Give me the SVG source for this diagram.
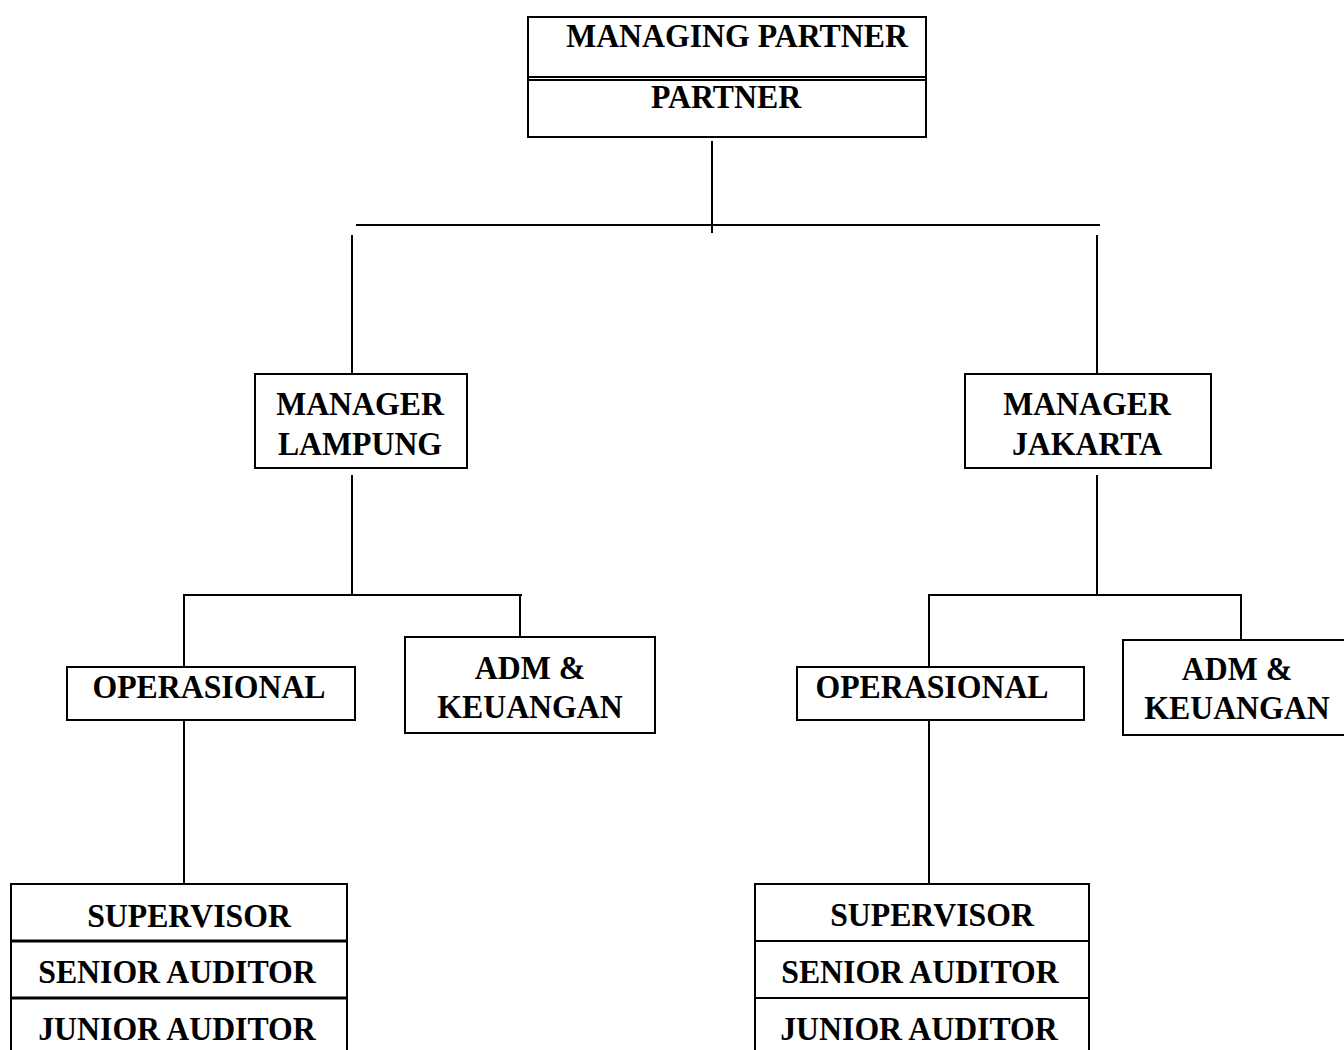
<svg xmlns="http://www.w3.org/2000/svg" width="1344" height="1050" viewBox="0 0 1344 1050">
<style>
.box{fill:#fff;stroke:#000;stroke-width:2}
.div{stroke:#000;stroke-width:2}
.thick{stroke:#000;stroke-width:3}
.lbl{font-family:"Liberation Serif","Times New Roman",serif;font-weight:bold;font-size:34px;fill:#000;text-anchor:middle}
#connectors line{stroke:#000;stroke-width:2}
</style>
<rect width="1344" height="1050" fill="#fff"/>
<g id="connectors">
<line x1="712" y1="141" x2="712" y2="233"/>
<line x1="356" y1="225" x2="1100" y2="225"/>
<line x1="352" y1="235" x2="352" y2="374"/>
<line x1="1097" y1="235" x2="1097" y2="374"/>
<line x1="352" y1="475" x2="352" y2="595"/>
<line x1="183" y1="595" x2="522" y2="595"/>
<line x1="184" y1="595" x2="184" y2="667"/>
<line x1="520" y1="595" x2="520" y2="637"/>
<line x1="184" y1="715" x2="184" y2="884"/>
<line x1="1097" y1="475" x2="1097" y2="595"/>
<line x1="928" y1="595" x2="1242" y2="595"/>
<line x1="929" y1="595" x2="929" y2="667"/>
<line x1="1241" y1="595" x2="1241" y2="640"/>
<line x1="929" y1="715" x2="929" y2="884"/>
</g>
<g id="managing-partner">
<rect class="box" x="528" y="17" width="398" height="120"/>
<line class="div" x1="528" y1="77" x2="926" y2="77"/>
<line class="div" x1="528" y1="80" x2="926" y2="80"/>
<text class="lbl" transform="translate(737,47) scale(0.935,1)">MANAGING PARTNER</text>
<text class="lbl" transform="translate(726,108) scale(0.935,1)">PARTNER</text>
</g>
<g id="manager-lampung">
<rect class="box" x="255" y="374" width="212" height="94"/>
<text class="lbl" transform="translate(360,415) scale(0.935,1)">MANAGER</text>
<text class="lbl" transform="translate(360,455) scale(0.935,1)">LAMPUNG</text>
</g>
<g id="manager-jakarta">
<rect class="box" x="965" y="374" width="246" height="94"/>
<text class="lbl" transform="translate(1087,415) scale(0.935,1)">MANAGER</text>
<text class="lbl" transform="translate(1087,455) scale(0.935,1)">JAKARTA</text>
</g>
<g id="operasional-lampung">
<rect class="box" x="67" y="667" width="288" height="53"/>
<text class="lbl" transform="translate(209,698) scale(0.935,1)">OPERASIONAL</text>
</g>
<g id="adm-lampung">
<rect class="box" x="405" y="637" width="250" height="96"/>
<text class="lbl" transform="translate(530,679) scale(0.935,1)">ADM &amp;</text>
<text class="lbl" transform="translate(530,718) scale(0.935,1)">KEUANGAN</text>
</g>
<g id="operasional-jakarta">
<rect class="box" x="797" y="667" width="287" height="53"/>
<text class="lbl" transform="translate(932,698) scale(0.935,1)">OPERASIONAL</text>
</g>
<g id="adm-jakarta">
<rect class="box" x="1123" y="640" width="224" height="95"/>
<text class="lbl" transform="translate(1237,680) scale(0.935,1)">ADM &amp;</text>
<text class="lbl" transform="translate(1237,719) scale(0.935,1)">KEUANGAN</text>
</g>
<g id="staff-lampung">
<rect class="box" x="11" y="884" width="336" height="180"/>
<line class="thick" x1="11" y1="941" x2="347" y2="941"/>
<line class="thick" x1="11" y1="998" x2="347" y2="998"/>
<text class="lbl" transform="translate(189,927) scale(0.935,1)">SUPERVISOR</text>
<text class="lbl" transform="translate(177,983) scale(0.935,1)">SENIOR AUDITOR</text>
<text class="lbl" transform="translate(177,1040) scale(0.935,1)">JUNIOR AUDITOR</text>
</g>
<g id="staff-jakarta">
<rect class="box" x="755" y="884" width="334" height="180"/>
<line class="div" x1="755" y1="941" x2="1089" y2="941"/>
<line class="div" x1="755" y1="998" x2="1089" y2="998"/>
<text class="lbl" transform="translate(932,926) scale(0.935,1)">SUPERVISOR</text>
<text class="lbl" transform="translate(920,983) scale(0.935,1)">SENIOR AUDITOR</text>
<text class="lbl" transform="translate(919,1040) scale(0.935,1)">JUNIOR AUDITOR</text>
</g>
</svg>
